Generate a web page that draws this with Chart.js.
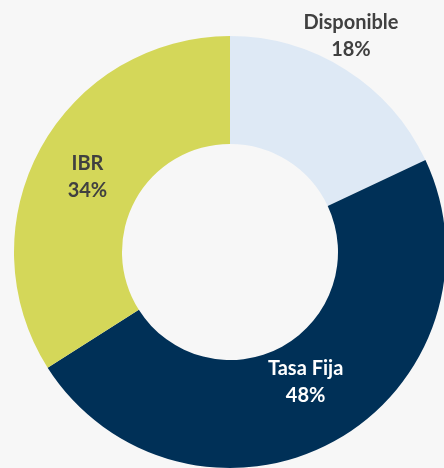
<!DOCTYPE html>
<html>
<head>
<meta charset="utf-8">
<script src="https://cdn.jsdelivr.net/npm/chart.js@4"></script>
<style>
  html, body { margin: 0; padding: 0; background: #f7f7f7; overflow: hidden; }
  #wrap { position: absolute; left: 0; top: 0; width: 460px; height: 490px; }
</style>
</head>
<body>
<div id="wrap"><canvas id="donutChart"></canvas></div>
<script>
// Data
const labels = ["Disponible", "Tasa Fija", "IBR"];
const shares = [18, 48, 34];
const colors = ["#dee9f5", "#003057", "#d4d759"];
const textColors = ["#404040", "#ffffff", "#404040"];
// label placement relative to centre, in units of outer radius
const labelOffsets = [[0.56, -1.0], [0.35, 0.6], [-0.66, -0.35]];

// Draws "name / xx%" labels for each slice
const sliceLabels = {
    id: "sliceLabels",
    afterDatasetsDraw(chart) {
        const ctx = chart.ctx;
        const arcs = chart.getDatasetMeta(0).data;
        ctx.save();
        ctx.font = "bold 20px Lato";
        ctx.textAlign = "center";
        ctx.textBaseline = "middle";
        arcs.forEach((arc, i) => {
            const r = arc.outerRadius;
            const x = arc.x + labelOffsets[i][0] * r;
            const y = arc.y + labelOffsets[i][1] * r;
            ctx.fillStyle = textColors[i];
            ctx.fillText(labels[i], x, y - 13);
            ctx.fillText(shares[i] + "%", x, y + 14);
        });
        ctx.restore();
    }
};

new Chart(document.getElementById("donutChart"), {
    type: "doughnut",
    data: {
        labels: labels,
        datasets: [{
            data: shares,
            backgroundColor: colors,
            borderWidth: 0
        }]
    },
    options: {
        responsive: true,
        maintainAspectRatio: false,
        animation: false,
        cutout: "50%",
        layout: { padding: { top: 36, left: 14, right: 14, bottom: 22 } },
        plugins: { legend: { display: false }, tooltip: { enabled: false } }
    },
    plugins: [sliceLabels]
});
</script>
</body>
</html>
